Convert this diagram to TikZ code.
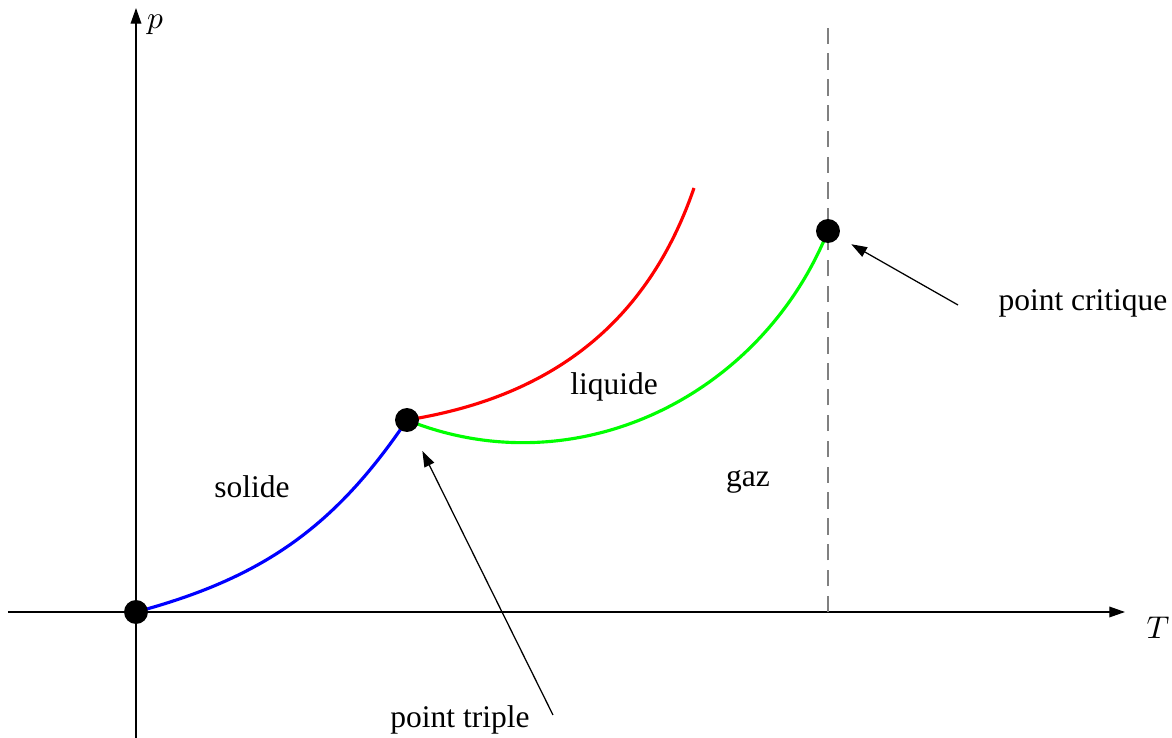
\documentclass[tikz,border=0pt]{standalone}
\usepackage{fontspec}
\setmainfont{Liberation Serif}
\usetikzlibrary{arrows.meta}

\begin{document}
\begin{tikzpicture}[
      x=0.1116cm, y=0.1116cm,
      axis/.style={-{Triangle[length=5pt, width=3.4pt]}, thin},
      pointer/.style={-{Triangle[length=5pt, width=3.4pt]}, thin},
      curve/.style={line width=1pt},
      phasept/.style={circle, fill=black, inner sep=0pt, minimum size=7.6pt},
      label/.style={font=\normalsize}
    ]
    \useasboundingbox (-13.6,-12.6) rectangle (103.6,61.2);

    % axes
    \coordinate (xstart) at (-12.8,0);
    \coordinate (xend) at (98.9,0);
    \coordinate (ystart) at (0,-12.6);
    \coordinate (yend) at (0,60.4);
    \draw[axis] (xstart) -- (xend);
    \draw[axis] (ystart) -- (yend);
    \node[label] (tlabel) at (102.2,-1.6) {$T$};
    \node[label] (plabel) at (1.9,58.7) {$p$};

    % critical isotherm
    \coordinate (critbottom) at (69.2,0);
    \coordinate (crittop) at (69.2,58.7);
    \draw[gray, dash pattern=on 5.2pt off 3pt, thin] (critbottom) -- (crittop);

    % points
    \coordinate (origin) at (0,0);
    \coordinate (triplec) at (27.1,19.2);
    \coordinate (criticc) at (69.2,38.1);
    \coordinate (fusionend) at (55.8,42.4);

    % coexistence curves
    \draw[curve, blue] (origin) to[out=15, in=236] (triplec);
    \draw[curve, red] (triplec) to[out=9, in=251] (fusionend);
    \draw[curve, green] (triplec) to[out=-22, in=248] (criticc);

    \node[phasept] (o) at (origin) {};
    \node[phasept] (triple) at (triplec) {};
    \node[phasept] (critic) at (criticc) {};

    % phase names
    \node[label] (solide) at (11.6,12.5) {solide};
    \node[label] (liquide) at (47.8,22.5) {liquide};
    \node[label] (gaz) at (61.2,13.0) {gaz};

    % pointers
    \node[label] (tripletext) at (32.4,-10.8) {point triple};
    \coordinate (tripletail) at (41.7,-10.3);
    \draw[pointer, shorten >=7pt] (tripletail) -- (triple);
    \node[label] (critictext) at (94.7,30.9) {point critique};
    \coordinate (crittail) at (82.2,30.7);
    \draw[pointer, shorten >=4.5pt] (crittail) -- (critic);
  \end{tikzpicture}
\end{document}
